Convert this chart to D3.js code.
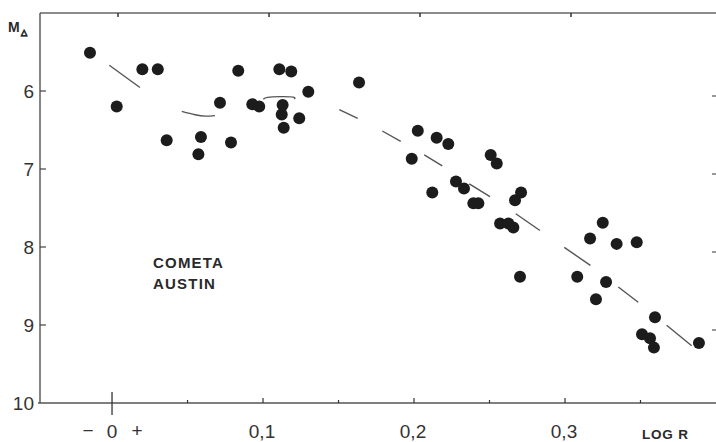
<!DOCTYPE html>
<html>
<head>
<meta charset="utf-8">
<script src="https://cdn.jsdelivr.net/npm/d3@7/dist/d3.min.js"></script>
<style>
  html, body { margin: 0; padding: 0; background: #fff; }
  svg { display: block; }
  text { font-family: "Liberation Sans", Arial, Helvetica, sans-serif; }
</style>
</head>
<body>
<svg id="chart" width="716" height="442"></svg>
<script>
// ---- Data ----
const logR = [
  -0.0146, 0.0031, 0.0201, 0.0303, 0.0362, 0.0572, 0.0589, 0.0715, 0.0788, 0.0836,
  0.0929, 0.0975, 0.1108, 0.1187, 0.1130, 0.1124, 0.1137, 0.1240, 0.1300, 0.1636,
  0.2025, 0.1985, 0.2150, 0.2227, 0.2508, 0.2548, 0.2121, 0.2278, 0.2331, 0.2393,
  0.2426, 0.2709, 0.2669, 0.2570, 0.2625, 0.2658, 0.2702, 0.3250, 0.3166, 0.3342,
  0.3475, 0.3081, 0.3272, 0.3205, 0.3596, 0.3510, 0.3563, 0.3589, 0.3887
];
const magnitude = [
  5.51, 6.20, 5.72, 5.72, 6.63, 6.81, 6.59, 6.15, 6.66, 5.74,
  6.17, 6.20, 5.72, 5.75, 6.18, 6.30, 6.47, 6.35, 6.01, 5.89,
  6.51, 6.87, 6.60, 6.68, 6.82, 6.93, 7.30, 7.16, 7.25, 7.44,
  7.44, 7.30, 7.40, 7.70, 7.70, 7.75, 8.38, 7.69, 7.89, 7.96,
  7.94, 8.38, 8.45, 8.67, 8.90, 9.12, 9.17, 9.29, 9.23
];
// dashed mean curve, one array of [logR, mag] per dash
const curveDashes = [
  [[-0.0018, 5.670], [0.0185, 5.955]],
  [[0.0462, 6.262], [0.0550, 6.305], [0.0620, 6.322], [0.0682, 6.315]],
  [[0.1002, 6.104], [0.1030, 6.082], [0.1113, 6.072], [0.1200, 6.078], [0.1207, 6.104]],
  [[0.1505, 6.240], [0.1627, 6.352]],
  [[0.1790, 6.513], [0.1912, 6.646]],
  [[0.2068, 6.820], [0.2187, 6.960]],
  [[0.2366, 7.190], [0.2503, 7.353]],
  [[0.2674, 7.574], [0.2834, 7.788]],
  [[0.2995, 8.005], [0.3168, 8.235]],
  [[0.3353, 8.513], [0.3485, 8.708]],
  [[0.3673, 9.003], [0.3839, 9.267]]
];
const yTicks = [6, 7, 8, 9, 10];
const xLabelTicks = [0.1, 0.2, 0.3];
const xLabels = ["0,1", "0,2", "0,3"];
const xMinorTicks = [0.05, 0.1, 0.15, 0.2, 0.25, 0.3, 0.35];
const topTicks = [0, 0.1, 0.2, 0.3];
const titleLines = ["COMETA", "AUSTIN"];

// ---- Scales ----
const x = d3.scaleLinear().domain([-0.0477, 0.4]).range([40, 716]);
const y = d3.scaleLinear().domain([5, 10]).range([13, 403]);

const svg = d3.select("#chart");
const ink = "#2a2a2a";
const lineCol = "#555";

// frame lines
svg.append("line").attr("x1", x(-0.0477)).attr("x2", x(0.4)).attr("y1", y(5)).attr("y2", y(5))
  .attr("stroke", "#666").attr("stroke-width", 1.3);
svg.append("line").attr("x1", x(-0.0477)).attr("x2", x(-0.0477)).attr("y1", y(5)).attr("y2", y(10))
  .attr("stroke", "#444").attr("stroke-width", 1.3);
svg.append("line").attr("x1", x(-0.0477) - 2).attr("x2", x(0.4)).attr("y1", y(10)).attr("y2", y(10))
  .attr("stroke", "#555").attr("stroke-width", 1.3);

// left axis ticks (inward)
svg.selectAll(".ltick").data(yTicks.filter(d => d < 10)).join("line")
  .attr("x1", x(-0.0477)).attr("x2", x(-0.0477) + 6)
  .attr("y1", d => y(d)).attr("y2", d => y(d))
  .attr("stroke", "#444").attr("stroke-width", 1.2);
// right axis ticks (inward)
svg.selectAll(".rtick").data(yTicks.filter(d => d < 10)).join("line")
  .attr("x1", x(0.4) - 4).attr("x2", x(0.4))
  .attr("y1", d => y(d) + 5).attr("y2", d => y(d) + 5)
  .attr("stroke", "#555").attr("stroke-width", 1.2);
// y labels
svg.selectAll(".ylab").data(yTicks).join("text")
  .attr("x", 34).attr("y", d => y(d) + 7)
  .attr("text-anchor", "end").attr("font-size", 19).attr("fill", "#333")
  .text(d => d);

// bottom ticks
svg.selectAll(".btick").data(xMinorTicks).join("line")
  .attr("x1", d => x(d)).attr("x2", d => x(d))
  .attr("y1", y(10)).attr("y2", d => y(10) - (Math.abs(d * 10 - Math.round(d * 10)) < 1e-6 ? 5 : 3))
  .attr("stroke", "#333").attr("stroke-width", 1.2);
// zero tick crossing the axis
svg.append("line").attr("x1", x(0)).attr("x2", x(0)).attr("y1", y(10) - 11).attr("y2", y(10) + 12)
  .attr("stroke", "#333").attr("stroke-width", 1.3);
// top ticks
svg.selectAll(".ttick").data(topTicks).join("line")
  .attr("x1", d => x(d) + 6).attr("x2", d => x(d) + 6)
  .attr("y1", y(5)).attr("y2", y(5) + 4)
  .attr("stroke", "#333").attr("stroke-width", 1.5);

// x labels
svg.selectAll(".xlab").data(xLabelTicks).join("text")
  .attr("x", d => x(d) - 1).attr("y", 438)
  .attr("text-anchor", "middle").attr("font-size", 19).attr("fill", "#333")
  .text((d, i) => xLabels[i]);
svg.append("text").attr("x", x(0)).attr("y", 438).attr("text-anchor", "middle")
  .attr("font-size", 19).attr("fill", "#333").text("0");
svg.append("text").attr("x", x(0) - 24).attr("y", 437).attr("text-anchor", "middle")
  .attr("font-size", 19).attr("fill", "#333").text("\u2212");
svg.append("text").attr("x", x(0) + 25).attr("y", 437).attr("text-anchor", "middle")
  .attr("font-size", 19).attr("fill", "#333").text("+");
svg.append("text").attr("x", 642).attr("y", 439)
  .attr("font-size", 13.5).attr("font-weight", "bold").attr("fill", ink)
  .attr("letter-spacing", 0.8).text("LOG R");

// y title
const yt = svg.append("text").attr("x", 8).attr("y", 32)
  .attr("font-size", 14).attr("font-weight", "bold").attr("fill", ink);
yt.append("tspan").text("M");
yt.append("tspan").attr("dx", 1).attr("dy", 3).attr("font-size", 8).attr("stroke", ink).attr("stroke-width", 0.6).text("\u25B3");

// comet name
svg.selectAll(".title").data(titleLines).join("text")
  .attr("x", 153).attr("y", (d, i) => 268 + i * 21)
  .attr("font-size", 15).attr("font-weight", "bold").attr("fill", ink)
  .attr("letter-spacing", 1.2).text(d => d);

// dashed curve
const line = d3.line().x(d => x(d[0])).y(d => y(d[1])).curve(d3.curveNatural);
svg.selectAll(".dash").data(curveDashes).join("path")
  .attr("d", line).attr("fill", "none")
  .attr("stroke", lineCol).attr("stroke-width", 1.4);

// points
svg.selectAll(".pt").data(logR).join("circle")
  .attr("cx", d => x(d)).attr("cy", (d, i) => y(magnitude[i]))
  .attr("r", 6).attr("fill", "#1c1c1c");
</script>
</body>
</html>
